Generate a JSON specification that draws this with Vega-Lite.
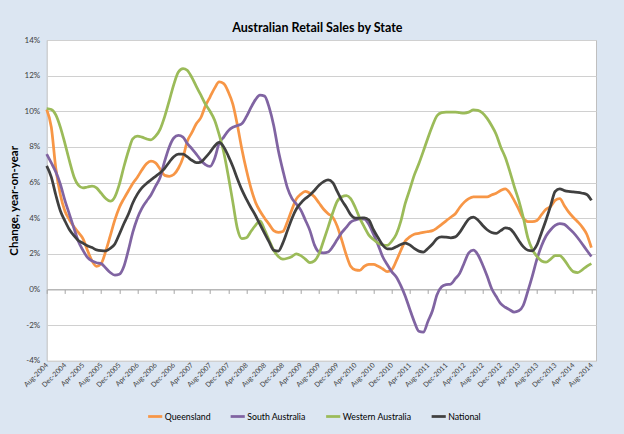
{
  "$schema": "https://vega.github.io/schema/vega-lite/v6.json",
  "width": 549.3,
  "height": 320.7,
  "autosize": {"type": "none"},
  "padding": {"left": 46.7, "top": 40, "right": 28, "bottom": 73.3},
  "background": "#DCE6F2",
  "title": {"text": "Australian Retail Sales by State", "font": "Lato", "fontSize": 12.5, "fontWeight": "bold", "color": "#000000", "anchor": "middle", "frame": "group", "offset": 2, "dx": -4},
  "data": {
    "format": {"parse": {"date": "utc:'%Y-%m'"}},
    "values": [
      {"date":"2004-08","Queensland":10.1,"South Australia":7.6,"Western Australia":10.15,"National":6.93},
      {"date":"2004-09","Queensland":9.1,"South Australia":7.1,"Western Australia":10.1,"National":6.3},
      {"date":"2004-10","Queensland":6.8,"South Australia":6.6,"Western Australia":9.8,"National":5.3},
      {"date":"2004-11","Queensland":5.3,"South Australia":5.9,"Western Australia":9.1,"National":4.4},
      {"date":"2004-12","Queensland":4.4,"South Australia":5.0,"Western Australia":8.2,"National":3.85},
      {"date":"2005-01","Queensland":3.9,"South Australia":4.2,"Western Australia":7.2,"National":3.35},
      {"date":"2005-02","Queensland":3.5,"South Australia":3.4,"Western Australia":6.3,"National":3.0},
      {"date":"2005-03","Queensland":3.2,"South Australia":2.7,"Western Australia":5.85,"National":2.75},
      {"date":"2005-04","Queensland":2.85,"South Australia":2.2,"Western Australia":5.7,"National":2.6},
      {"date":"2005-05","Queensland":2.2,"South Australia":1.8,"Western Australia":5.75,"National":2.45},
      {"date":"2005-06","Queensland":1.6,"South Australia":1.6,"Western Australia":5.8,"National":2.35},
      {"date":"2005-07","Queensland":1.3,"South Australia":1.5,"Western Australia":5.7,"National":2.22},
      {"date":"2005-08","Queensland":1.45,"South Australia":1.45,"Western Australia":5.4,"National":2.18},
      {"date":"2005-09","Queensland":2.15,"South Australia":1.2,"Western Australia":5.1,"National":2.17},
      {"date":"2005-10","Queensland":3.0,"South Australia":0.95,"Western Australia":4.95,"National":2.3},
      {"date":"2005-11","Queensland":3.9,"South Australia":0.8,"Western Australia":5.2,"National":2.55},
      {"date":"2005-12","Queensland":4.6,"South Australia":0.85,"Western Australia":5.9,"National":3.1},
      {"date":"2006-01","Queensland":5.1,"South Australia":1.3,"Western Australia":6.9,"National":3.7},
      {"date":"2006-02","Queensland":5.55,"South Australia":2.25,"Western Australia":7.8,"National":4.25},
      {"date":"2006-03","Queensland":5.95,"South Australia":3.2,"Western Australia":8.45,"National":4.85},
      {"date":"2006-04","Queensland":6.3,"South Australia":4.0,"Western Australia":8.6,"National":5.35},
      {"date":"2006-05","Queensland":6.7,"South Australia":4.55,"Western Australia":8.55,"National":5.7},
      {"date":"2006-06","Queensland":7.05,"South Australia":4.95,"Western Australia":8.45,"National":5.95},
      {"date":"2006-07","Queensland":7.2,"South Australia":5.3,"Western Australia":8.4,"National":6.15},
      {"date":"2006-08","Queensland":7.1,"South Australia":5.8,"Western Australia":8.6,"National":6.35},
      {"date":"2006-09","Queensland":6.75,"South Australia":6.3,"Western Australia":9.0,"National":6.55},
      {"date":"2006-10","Queensland":6.4,"South Australia":7.2,"Western Australia":9.7,"National":6.8},
      {"date":"2006-11","Queensland":6.35,"South Australia":8.0,"Western Australia":10.6,"National":7.15},
      {"date":"2006-12","Queensland":6.45,"South Australia":8.5,"Western Australia":11.5,"National":7.45},
      {"date":"2007-01","Queensland":6.8,"South Australia":8.65,"Western Australia":12.2,"National":7.6},
      {"date":"2007-02","Queensland":7.4,"South Australia":8.55,"Western Australia":12.4,"National":7.6},
      {"date":"2007-03","Queensland":8.3,"South Australia":8.2,"Western Australia":12.3,"National":7.45},
      {"date":"2007-04","Queensland":8.8,"South Australia":7.9,"Western Australia":11.9,"National":7.25},
      {"date":"2007-05","Queensland":9.3,"South Australia":7.6,"Western Australia":11.4,"National":7.12},
      {"date":"2007-06","Queensland":9.65,"South Australia":7.25,"Western Australia":10.9,"National":7.15},
      {"date":"2007-07","Queensland":10.3,"South Australia":7.0,"Western Australia":10.4,"National":7.4},
      {"date":"2007-08","Queensland":10.8,"South Australia":6.9,"Western Australia":10.0,"National":7.7},
      {"date":"2007-09","Queensland":11.3,"South Australia":7.35,"Western Australia":9.5,"National":8.05},
      {"date":"2007-10","Queensland":11.65,"South Australia":8.2,"Western Australia":8.7,"National":8.25},
      {"date":"2007-11","Queensland":11.55,"South Australia":8.55,"Western Australia":7.7,"National":8.0},
      {"date":"2007-12","Queensland":11.1,"South Australia":8.9,"Western Australia":6.4,"National":7.5},
      {"date":"2008-01","Queensland":10.4,"South Australia":9.1,"Western Australia":4.9,"National":6.9},
      {"date":"2008-02","Queensland":9.2,"South Australia":9.2,"Western Australia":3.4,"National":6.2},
      {"date":"2008-03","Queensland":7.9,"South Australia":9.3,"Western Australia":2.85,"National":5.6},
      {"date":"2008-04","Queensland":6.7,"South Australia":9.7,"Western Australia":2.9,"National":5.07},
      {"date":"2008-05","Queensland":5.7,"South Australia":10.2,"Western Australia":3.25,"National":4.6},
      {"date":"2008-06","Queensland":4.9,"South Australia":10.65,"Western Australia":3.6,"National":4.15},
      {"date":"2008-07","Queensland":4.4,"South Australia":10.9,"Western Australia":3.85,"National":3.65},
      {"date":"2008-08","Queensland":4.0,"South Australia":10.85,"Western Australia":3.35,"National":3.15},
      {"date":"2008-09","Queensland":3.65,"South Australia":10.2,"Western Australia":2.75,"National":2.65},
      {"date":"2008-10","Queensland":3.3,"South Australia":9.2,"Western Australia":2.2,"National":2.2},
      {"date":"2008-11","Queensland":3.2,"South Australia":7.8,"Western Australia":1.85,"National":2.15},
      {"date":"2008-12","Queensland":3.25,"South Australia":6.7,"Western Australia":1.7,"National":2.6},
      {"date":"2009-01","Queensland":3.8,"South Australia":5.7,"Western Australia":1.75,"National":3.3},
      {"date":"2009-02","Queensland":4.5,"South Australia":5.1,"Western Australia":1.85,"National":4.0},
      {"date":"2009-03","Queensland":5.07,"South Australia":4.8,"Western Australia":2.0,"National":4.5},
      {"date":"2009-04","Queensland":5.35,"South Australia":4.45,"Western Australia":1.9,"National":4.85},
      {"date":"2009-05","Queensland":5.5,"South Australia":3.9,"Western Australia":1.7,"National":5.1},
      {"date":"2009-06","Queensland":5.4,"South Australia":3.3,"Western Australia":1.5,"National":5.3},
      {"date":"2009-07","Queensland":5.2,"South Australia":2.5,"Western Australia":1.6,"National":5.55},
      {"date":"2009-08","Queensland":4.85,"South Australia":2.1,"Western Australia":2.0,"National":5.85},
      {"date":"2009-09","Queensland":4.5,"South Australia":2.05,"Western Australia":2.75,"National":6.05},
      {"date":"2009-10","Queensland":4.25,"South Australia":2.1,"Western Australia":3.5,"National":6.15},
      {"date":"2009-11","Queensland":4.05,"South Australia":2.4,"Western Australia":4.3,"National":6.0},
      {"date":"2009-12","Queensland":3.55,"South Australia":2.8,"Western Australia":4.95,"National":5.5},
      {"date":"2010-01","Queensland":2.75,"South Australia":3.2,"Western Australia":5.2,"National":5.0},
      {"date":"2010-02","Queensland":1.9,"South Australia":3.5,"Western Australia":5.27,"National":4.6},
      {"date":"2010-03","Queensland":1.3,"South Australia":3.78,"Western Australia":5.1,"National":4.2},
      {"date":"2010-04","Queensland":1.1,"South Australia":3.9,"Western Australia":4.6,"National":4.0},
      {"date":"2010-05","Queensland":1.07,"South Australia":3.96,"Western Australia":4.0,"National":4.0},
      {"date":"2010-06","Queensland":1.3,"South Australia":3.95,"Western Australia":3.5,"National":4.02},
      {"date":"2010-07","Queensland":1.4,"South Australia":3.65,"Western Australia":3.05,"National":3.9},
      {"date":"2010-08","Queensland":1.4,"South Australia":3.1,"Western Australia":2.8,"National":3.35},
      {"date":"2010-09","Queensland":1.3,"South Australia":2.5,"Western Australia":2.6,"National":2.9},
      {"date":"2010-10","Queensland":1.16,"South Australia":1.85,"Western Australia":2.5,"National":2.5},
      {"date":"2010-11","Queensland":1.0,"South Australia":1.4,"Western Australia":2.47,"National":2.28},
      {"date":"2010-12","Queensland":1.1,"South Australia":1.0,"Western Australia":2.7,"National":2.28},
      {"date":"2011-01","Queensland":1.6,"South Australia":0.7,"Western Australia":3.1,"National":2.4},
      {"date":"2011-02","Queensland":2.2,"South Australia":0.2,"Western Australia":3.85,"National":2.52},
      {"date":"2011-03","Queensland":2.7,"South Australia":-0.35,"Western Australia":4.8,"National":2.6},
      {"date":"2011-04","Queensland":2.95,"South Australia":-1.1,"Western Australia":5.6,"National":2.5},
      {"date":"2011-05","Queensland":3.1,"South Australia":-1.8,"Western Australia":6.4,"National":2.3},
      {"date":"2011-06","Queensland":3.15,"South Australia":-2.35,"Western Australia":7.05,"National":2.15},
      {"date":"2011-07","Queensland":3.2,"South Australia":-2.4,"Western Australia":7.75,"National":2.1},
      {"date":"2011-08","Queensland":3.25,"South Australia":-1.8,"Western Australia":8.5,"National":2.3},
      {"date":"2011-09","Queensland":3.3,"South Australia":-1.18,"Western Australia":9.2,"National":2.55},
      {"date":"2011-10","Queensland":3.45,"South Australia":-0.3,"Western Australia":9.75,"National":2.85},
      {"date":"2011-11","Queensland":3.65,"South Australia":0.15,"Western Australia":9.92,"National":2.95},
      {"date":"2011-12","Queensland":3.85,"South Australia":0.27,"Western Australia":9.95,"National":2.93},
      {"date":"2012-01","Queensland":4.05,"South Australia":0.3,"Western Australia":9.95,"National":2.9},
      {"date":"2012-02","Queensland":4.25,"South Australia":0.6,"Western Australia":9.95,"National":2.95},
      {"date":"2012-03","Queensland":4.6,"South Australia":0.9,"Western Australia":9.92,"National":3.2},
      {"date":"2012-04","Queensland":4.9,"South Australia":1.5,"Western Australia":9.9,"National":3.6},
      {"date":"2012-05","Queensland":5.1,"South Australia":2.05,"Western Australia":9.95,"National":3.95},
      {"date":"2012-06","Queensland":5.2,"South Australia":2.2,"Western Australia":10.08,"National":4.06},
      {"date":"2012-07","Queensland":5.2,"South Australia":1.95,"Western Australia":10.05,"National":3.9},
      {"date":"2012-08","Queensland":5.2,"South Australia":1.4,"Western Australia":9.9,"National":3.6},
      {"date":"2012-09","Queensland":5.2,"South Australia":0.75,"Western Australia":9.6,"National":3.35},
      {"date":"2012-10","Queensland":5.3,"South Australia":0.05,"Western Australia":9.2,"National":3.2},
      {"date":"2012-11","Queensland":5.4,"South Australia":-0.4,"Western Australia":8.7,"National":3.15},
      {"date":"2012-12","Queensland":5.55,"South Australia":-0.8,"Western Australia":8.0,"National":3.3},
      {"date":"2013-01","Queensland":5.65,"South Australia":-1.0,"Western Australia":7.4,"National":3.45},
      {"date":"2013-02","Queensland":5.4,"South Australia":-1.15,"Western Australia":6.6,"National":3.4},
      {"date":"2013-03","Queensland":5.0,"South Australia":-1.27,"Western Australia":5.8,"National":3.15},
      {"date":"2013-04","Queensland":4.5,"South Australia":-1.2,"Western Australia":5.0,"National":2.75},
      {"date":"2013-05","Queensland":4.0,"South Australia":-0.9,"Western Australia":4.05,"National":2.4},
      {"date":"2013-06","Queensland":3.8,"South Australia":-0.1,"Western Australia":2.9,"National":2.2},
      {"date":"2013-07","Queensland":3.8,"South Australia":0.75,"Western Australia":2.25,"National":2.17},
      {"date":"2013-08","Queensland":3.87,"South Australia":1.7,"Western Australia":1.85,"National":2.5},
      {"date":"2013-09","Queensland":4.2,"South Australia":2.45,"Western Australia":1.6,"National":3.2},
      {"date":"2013-10","Queensland":4.5,"South Australia":3.0,"Western Australia":1.53,"National":3.9},
      {"date":"2013-11","Queensland":4.65,"South Australia":3.35,"Western Australia":1.7,"National":4.7},
      {"date":"2013-12","Queensland":5.0,"South Australia":3.6,"Western Australia":1.9,"National":5.5},
      {"date":"2014-01","Queensland":5.1,"South Australia":3.7,"Western Australia":1.9,"National":5.64},
      {"date":"2014-02","Queensland":4.7,"South Australia":3.65,"Western Australia":1.65,"National":5.55},
      {"date":"2014-03","Queensland":4.35,"South Australia":3.45,"Western Australia":1.3,"National":5.5},
      {"date":"2014-04","Queensland":4.05,"South Australia":3.2,"Western Australia":1.0,"National":5.47},
      {"date":"2014-05","Queensland":3.8,"South Australia":2.9,"Western Australia":0.95,"National":5.45},
      {"date":"2014-06","Queensland":3.5,"South Australia":2.55,"Western Australia":1.1,"National":5.4},
      {"date":"2014-07","Queensland":3.1,"South Australia":2.2,"Western Australia":1.3,"National":5.33},
      {"date":"2014-08","Queensland":2.35,"South Australia":1.85,"Western Australia":1.45,"National":5.0}
    ]
  },
  "transform": [{"fold": ["Queensland", "South Australia", "Western Australia", "National"], "as": ["state", "value"]}],
  "mark": {"type": "line", "interpolate": "monotone", "strokeWidth": 2.75},
  "encoding": {
    "x": {
      "field": "date", "type": "temporal",
      "scale": {"type": "utc", "domain": [{"year": 2004, "month": 8, "date": 1, "utc": true}, {"year": 2014, "month": 9, "date": 1, "utc": true}]},
      "axis": {
        "values": [
          {"year":2004,"month":8,"date":1,"utc":true},{"year":2004,"month":12,"date":1,"utc":true},
          {"year":2005,"month":4,"date":1,"utc":true},{"year":2005,"month":8,"date":1,"utc":true},{"year":2005,"month":12,"date":1,"utc":true},
          {"year":2006,"month":4,"date":1,"utc":true},{"year":2006,"month":8,"date":1,"utc":true},{"year":2006,"month":12,"date":1,"utc":true},
          {"year":2007,"month":4,"date":1,"utc":true},{"year":2007,"month":8,"date":1,"utc":true},{"year":2007,"month":12,"date":1,"utc":true},
          {"year":2008,"month":4,"date":1,"utc":true},{"year":2008,"month":8,"date":1,"utc":true},{"year":2008,"month":12,"date":1,"utc":true},
          {"year":2009,"month":4,"date":1,"utc":true},{"year":2009,"month":8,"date":1,"utc":true},{"year":2009,"month":12,"date":1,"utc":true},
          {"year":2010,"month":4,"date":1,"utc":true},{"year":2010,"month":8,"date":1,"utc":true},{"year":2010,"month":12,"date":1,"utc":true},
          {"year":2011,"month":4,"date":1,"utc":true},{"year":2011,"month":8,"date":1,"utc":true},{"year":2011,"month":12,"date":1,"utc":true},
          {"year":2012,"month":4,"date":1,"utc":true},{"year":2012,"month":8,"date":1,"utc":true},{"year":2012,"month":12,"date":1,"utc":true},
          {"year":2013,"month":4,"date":1,"utc":true},{"year":2013,"month":8,"date":1,"utc":true},{"year":2013,"month":12,"date":1,"utc":true},
          {"year":2014,"month":4,"date":1,"utc":true},{"year":2014,"month":8,"date":1,"utc":true}
        ],
        "format": "%b-%Y",
        "labelAngle": -45, "labelAlign": "right", "labelBaseline": "middle",
        "labelFont": "Lato", "labelFontSize": 7, "labelColor": "#404040",
        "labelPadding": 70.3, "offset": -71.27,
        "tickSize": 4, "tickColor": "#A6A6A6", "domainColor": "#A6A6A6",
        "grid": false, "title": null,
        "labelOverlap": false, "labelFlush": false, "labelBound": false
      }
    },
    "y": {
      "field": "value", "type": "quantitative",
      "scale": {"domain": [-4, 14], "nice": false, "zero": false},
      "axis": {
        "values": [-4, -2, 0, 2, 4, 6, 8, 10, 12, 14],
        "labelExpr": "datum.value + '%'",
        "labelFont": "Lato", "labelFontSize": 8, "labelColor": "#404040", "labelPadding": 7,
        "ticks": false, "domain": false, "gridColor": "#D0D0D0",
        "title": "Change, year-on-year", "titleFont": "Lato", "titleFontSize": 11.5, "titleFontWeight": "bold", "titleColor": "#000000", "titlePadding": 5
      }
    },
    "color": {
      "field": "state", "type": "nominal",
      "scale": {"domain": ["Queensland", "South Australia", "Western Australia", "National"], "range": ["#F79646", "#8064A2", "#9BBB59", "#404040"]},
      "legend": {
        "orient": "none", "legendX": 100, "legendY": 368, "direction": "horizontal", "title": null,
        "symbolType": "stroke", "symbolStrokeWidth": 2.75, "symbolSize": 200,
        "labelFont": "Lato", "labelFontSize": 8.75, "labelColor": "#000000", "labelOffset": 1,
        "columnPadding": 13.5, "padding": 0
      }
    }
  },
  "config": {
    "view": {"stroke": "#BFBFBF", "fill": "#FFFFFF"}
  }
}
